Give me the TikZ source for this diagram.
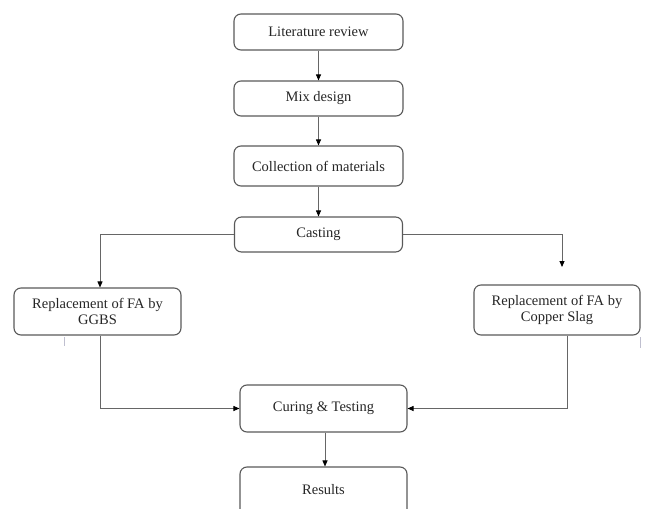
\documentclass[tikz,border=0pt]{standalone}
\usepackage{fontspec}
\setmainfont{Liberation Serif}
\usetikzlibrary{arrows.meta}
\begin{document}
\begin{tikzpicture}[x=1pt,y=-1pt,
  txt/.style={font=\fontsize{14.5}{16}\selectfont,text=black!85},
  box/.style={txt,draw=black!65,line width=1.1pt,rounded corners=7pt,align=center,inner sep=0pt},
  conn/.style={draw=black!60,line width=0.9pt},
  arr/.style={conn,-{Triangle[length=6pt,width=5pt,color=black]}},
  tick/.style={draw=blue!25!black!25,line width=0.6pt}]
\clip (0,0) rectangle (646,509);
\useasboundingbox (0,0) rectangle (646,509);
\node[box,minimum width=169pt,minimum height=36pt] (lit) at (318.5,32) {Literature review};
\node[box,minimum width=169pt,minimum height=35pt] (mix) at (318.5,98.5) {Mix design};
\node[box,minimum width=169pt,minimum height=40pt] (coll) at (318.5,166) {Collection of materials};
\node[box,minimum width=168pt,minimum height=35pt] (cast) at (318.5,234.5) {Casting};
\node[box,minimum width=167pt,minimum height=47pt] (ggbs) at (97.5,311.5) {Replacement of FA by\\GGBS};
\node[box,minimum width=166pt,minimum height=50pt] (cop) at (557,310) {Replacement of FA by\\Copper Slag};
\node[box,minimum width=167pt,minimum height=47pt] (cur) at (323.5,408.5) {Curing \& Testing};
\node[box,minimum width=167pt,minimum height=56pt] (res) at (323.5,495) {};
\node[txt] (restext) at (323.5,490) {Results};
\coordinate (rt) at (562,267);
\draw[arr] (lit) -- (mix);
\draw[arr] (mix) -- (coll);
\draw[arr] (coll) -- (cast);
\draw[arr] (cast.west) -| ([xshift=2.5pt]ggbs.north);
\draw[arr] (cast.east) -| (rt);
\draw[arr] ([xshift=2.5pt]ggbs.south) |- (cur.west);
\draw[arr] ([xshift=10pt]cop.south) |- (cur.east);
\draw[arr] ([xshift=1.5pt]cur.south) -- ([xshift=1.5pt]res.north);
\draw[tick] (64,337) -- (64,346);
\draw[tick] (640,337) -- (640,348);
\end{tikzpicture}
\end{document}
